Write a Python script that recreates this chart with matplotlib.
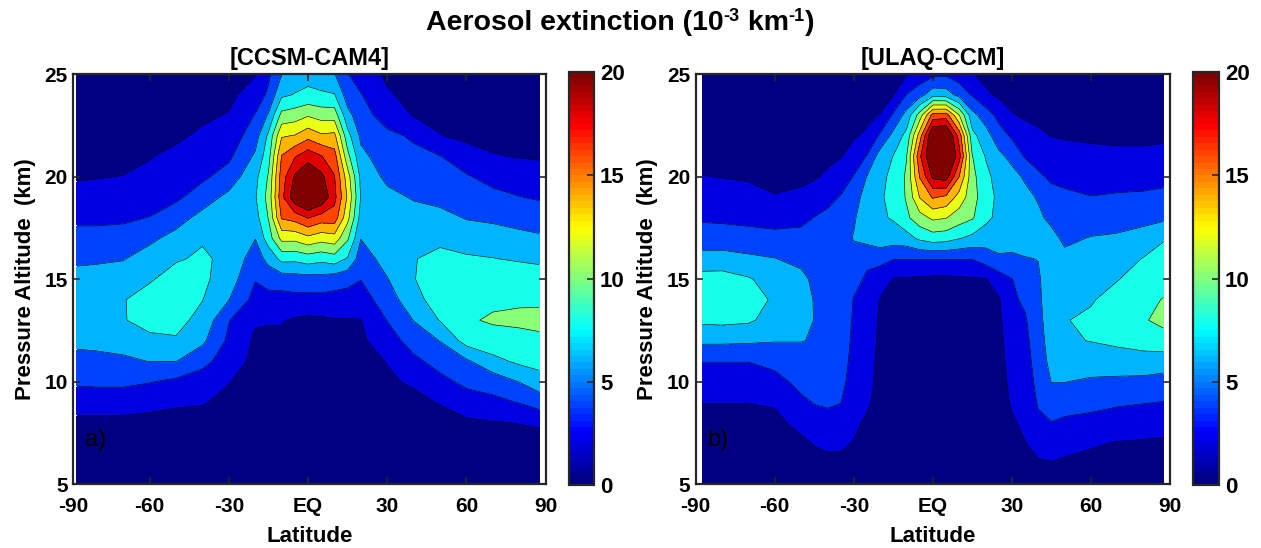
import numpy as np
import matplotlib
matplotlib.use("Agg")
import matplotlib.pyplot as plt
from matplotlib.colors import ListedColormap, Normalize
from matplotlib.cm import ScalarMappable

plt.rcParams['font.family'] = ['Liberation Sans', 'DejaVu Sans']

# ---------------- data ----------------
alt_km = list(range(5, 26))          # pressure altitude grid (km)
levels = [0, 2, 4, 6, 8, 10, 12, 14, 16, 18, 20]
cbar_ticks = [0, 5, 10, 15, 20]
xtick_vals = [-90, -60, -30, 0, 30, 60, 90]
xtick_labels = ['-90', '-60', '-30', 'EQ', '30', '60', '90']
ytick_vals = [5, 10, 15, 20, 25]

lat_ccsm = [-87.5, -80, -70, -60, -50, -40, -30, -20, -15, -10, -5, 0,
            5, 10, 15, 20, 30, 40, 50, 60, 70, 80, 87.5]
# one list per latitude, values at 5..25 km (10^-3 km^-1)
ext_ccsm = [
    [0.8, 1.0, 1.3, 1.5, 2.9, 4.3, 5.3, 6.5, 7.4, 7.5, 6.7, 5.6, 4.6, 3.6, 2.7, 1.8, 1.3, 1.0, 0.8, 0.7, 0.6],
    [0.8, 1.0, 1.3, 1.5, 2.9, 4.4, 5.4, 6.6, 7.6, 7.7, 6.8, 5.7, 4.6, 3.6, 2.8, 1.9, 1.3, 1.0, 0.8, 0.7, 0.6],
    [0.8, 1.0, 1.3, 1.5, 2.9, 4.4, 5.6, 6.9, 7.9, 7.9, 6.9, 5.9, 4.7, 3.7, 2.9, 2.05, 1.4, 1.0, 0.8, 0.7, 0.6],
    [0.8, 1.0, 1.3, 1.5, 2.5, 4.1, 6.05, 7.6, 8.6, 8.8, 7.8, 6.8, 5.6, 4.05, 3.1, 2.4, 1.9, 1.4, 1.1, 0.9, 0.8],
    [0.8, 1.0, 1.3, 1.5, 2.2, 3.6, 6.05, 7.8, 8.6, 9.0, 8.8, 7.8, 6.6, 5.2, 3.6, 2.8, 2.4, 1.7, 1.3, 1.0, 0.9],
    [0.8, 1.0, 1.3, 1.5, 2.1, 3.0, 4.6, 6.4, 7.4, 8.05, 8.4, 8.3, 7.8, 6.6, 5.05, 3.6, 3.0, 2.3, 1.7, 1.3, 1.1],
    [0.8, 1.0, 1.3, 1.5, 1.65, 2.05, 3.0, 3.6, 4.1, 6.05, 7.0, 7.5, 7.5, 7.2, 6.5, 4.9, 3.6, 2.8, 2.1, 1.6, 1.2],
    [0.5, 0.6, 0.8, 0.9, 1.1, 1.3, 1.5, 1.7, 2.2, 3.3, 4.1, 5.0, 6.05, 7.2, 7.8, 7.4, 6.3, 5.1, 4.1, 2.8, 1.9],
    [0.5, 0.6, 0.8, 0.9, 1.1, 1.3, 1.5, 1.7, 2.1, 3.3, 4.8, 6.6, 9.0, 10.1, 10.7, 10.2, 9.2, 8.4, 6.2, 4.4, 3.6],
    [0.5, 0.6, 0.7, 0.8, 1.0, 1.2, 1.4, 1.7, 2.1, 3.3, 4.9, 8.6, 12.6, 16.2, 17.4, 17.0, 16.1, 13.8, 10.6, 7.6, 5.9],
    [0.3, 0.4, 0.5, 0.6, 0.7, 0.9, 1.1, 1.4, 1.8, 3.4, 5.1, 8.5, 12.6, 16.8, 21.5, 20.3, 17.8, 14.1, 11.0, 8.1, 7.0],
    [0.3, 0.4, 0.5, 0.6, 0.7, 0.8, 1.0, 1.3, 1.6, 3.4, 5.2, 9.0, 13.5, 18.1, 23.5, 21.8, 19.2, 15.3, 11.8, 8.4, 7.4],
    [0.3, 0.4, 0.5, 0.6, 0.7, 0.8, 1.0, 1.3, 1.7, 3.4, 5.2, 8.6, 12.8, 17.1, 21.8, 20.5, 18.1, 14.3, 11.2, 8.2, 7.2],
    [0.5, 0.6, 0.7, 0.8, 0.9, 1.1, 1.3, 1.6, 1.9, 3.3, 4.9, 9.1, 13.2, 17.1, 18.6, 18.1, 16.8, 14.5, 11.1, 8.1, 6.1],
    [0.5, 0.6, 0.7, 0.8, 1.0, 1.2, 1.4, 1.7, 1.9, 3.2, 4.6, 7.8, 10.3, 12.6, 13.7, 12.9, 10.6, 8.7, 6.6, 5.0, 4.1],
    [0.6, 0.7, 0.8, 0.9, 1.1, 1.3, 1.5, 1.7, 1.95, 3.1, 4.05, 5.0, 6.05, 7.2, 7.9, 7.5, 6.5, 5.6, 4.9, 4.1, 3.0],
    [0.7, 0.9, 1.1, 1.3, 1.6, 1.8, 2.05, 3.0, 4.05, 5.0, 5.9, 6.8, 7.3, 7.2, 6.6, 5.5, 4.9, 4.5, 3.0, 2.2, 1.7],
    [0.7, 0.9, 1.1, 1.3, 1.6, 2.2, 3.5, 4.9, 6.05, 7.3, 7.9, 7.9, 7.5, 6.9, 5.8, 4.9, 4.5, 3.7, 1.9, 1.5, 1.2],
    [0.7, 0.9, 1.1, 1.4, 2.1, 3.4, 4.8, 6.05, 8.1, 9.0, 9.3, 8.6, 7.5, 6.5, 5.5, 4.8, 4.05, 2.05, 1.6, 1.3, 1.1],
    [0.7, 0.9, 1.2, 1.7, 3.0, 4.5, 5.7, 8.8, 9.8, 9.9, 9.4, 8.3, 6.9, 5.9, 5.0, 4.2, 2.8, 1.6, 1.3, 1.1, 1.0],
    [0.8, 1.0, 1.4, 1.9, 3.5, 4.9, 7.4, 9.3, 10.2, 9.7, 9.0, 8.05, 7.0, 5.6, 4.6, 3.3, 2.1, 1.5, 1.2, 1.0, 0.9],
    [0.8, 1.0, 1.4, 2.05, 4.1, 6.05, 8.4, 9.5, 10.3, 9.8, 9.1, 7.8, 6.6, 5.2, 4.05, 3.0, 1.9, 1.4, 1.1, 1.0, 0.9],
    [0.8, 1.0, 1.4, 2.2, 5.0, 7.0, 8.8, 9.6, 10.5, 9.7, 9.0, 7.6, 6.3, 5.0, 3.8, 2.8, 1.8, 1.3, 1.1, 1.0, 0.9],
]

lat_ulaq = [-87.5, -80, -70, -60, -50, -45, -40, -35, -30, -25, -20, -15, -10, -5, 0,
            5, 10, 15, 20, 25, 30, 35, 40, 45, 50, 60, 70, 80, 87.5]
ext_ulaq = [
    [0.5, 0.7, 1.0, 1.4, 2.05, 3.0, 4.05, 6.4, 8.4, 9.4, 8.8, 6.7, 5.0, 3.7, 2.9, 2.05, 1.5, 1.1, 0.9, 0.8, 0.7],
    [0.5, 0.7, 1.0, 1.4, 2.05, 3.0, 4.05, 6.4, 8.5, 9.5, 8.9, 6.7, 5.0, 3.6, 2.8, 1.95, 1.5, 1.1, 0.9, 0.8, 0.7],
    [0.5, 0.7, 1.0, 1.4, 2.05, 3.0, 4.05, 6.3, 8.3, 9.2, 8.2, 6.4, 4.7, 3.5, 2.6, 1.8, 1.4, 1.1, 0.9, 0.8, 0.7],
    [0.5, 0.7, 1.0, 1.5, 2.2, 3.3, 4.6, 6.1, 7.2, 7.6, 7.1, 6.05, 4.7, 3.1, 2.1, 1.5, 1.2, 1.0, 0.85, 0.75, 0.7],
    [0.6, 0.9, 1.6, 2.6, 3.6, 4.6, 5.3, 6.05, 6.8, 6.9, 6.5, 5.5, 4.6, 3.5, 2.4, 1.6, 1.2, 1.0, 0.85, 0.75, 0.7],
    [0.8, 1.4, 2.1, 3.2, 4.1, 4.8, 5.4, 5.9, 5.95, 5.9, 5.6, 5.1, 4.6, 4.05, 2.9, 1.8, 1.3, 1.1, 0.9, 0.8, 0.7],
    [1.0, 1.6, 2.3, 3.3, 4.3, 4.8, 5.1, 5.3, 5.4, 5.4, 5.3, 5.1, 4.8, 4.4, 3.5, 2.3, 1.6, 1.2, 1.0, 0.85, 0.75],
    [1.0, 1.6, 2.3, 3.2, 4.05, 4.6, 5.0, 5.3, 5.5, 5.6, 5.6, 5.5, 5.3, 4.9, 4.1, 3.0, 1.9, 1.4, 1.1, 0.9, 0.8],
    [0.9, 1.3, 1.9, 2.4, 2.8, 3.1, 3.3, 3.5, 3.7, 3.9, 4.6, 5.4, 6.1, 5.8, 5.2, 4.1, 2.8, 1.8, 1.3, 1.0, 0.9],
    [0.7, 1.0, 1.3, 1.7, 2.3, 2.6, 2.8, 3.0, 3.2, 3.4, 3.7, 4.4, 6.7, 7.0, 6.8, 6.05, 4.1, 2.3, 1.6, 1.2, 1.0],
    [0.6, 0.8, 1.0, 1.2, 1.3, 1.4, 1.5, 1.6, 1.7, 1.9, 2.9, 4.6, 7.2, 7.7, 7.8, 7.6, 6.9, 4.3, 2.05, 1.5, 1.2],
    [0.5, 0.6, 0.7, 0.8, 0.9, 1.0, 1.1, 1.2, 1.3, 1.5, 1.9, 4.1, 7.0, 8.2, 8.5, 8.4, 8.05, 6.6, 4.3, 1.95, 1.2],
    [0.5, 0.6, 0.7, 0.8, 0.9, 1.0, 1.1, 1.2, 1.3, 1.5, 1.8, 4.1, 7.2, 9.6, 10.2, 10.3, 9.9, 8.6, 6.7, 4.05, 1.9],
    [0.4, 0.5, 0.6, 0.7, 0.8, 0.9, 1.0, 1.1, 1.2, 1.4, 1.7, 4.1, 8.4, 11.2, 14.1, 16.1, 17.6, 15.0, 10.9, 5.2, 2.8],
    [0.3, 0.4, 0.5, 0.6, 0.7, 0.8, 0.9, 1.0, 1.1, 1.3, 1.6, 4.1, 9.0, 12.4, 16.2, 20.4, 22.5, 22.5, 16.8, 7.2, 3.5],
    [0.3, 0.4, 0.5, 0.6, 0.7, 0.8, 0.9, 1.0, 1.1, 1.3, 1.6, 4.1, 8.8, 12.1, 15.6, 21.0, 23.5, 23.0, 17.0, 7.0, 3.7],
    [0.4, 0.5, 0.6, 0.7, 0.8, 0.9, 1.0, 1.1, 1.2, 1.4, 1.7, 4.1, 8.1, 11.0, 13.2, 16.0, 18.8, 17.2, 12.1, 5.3, 3.0],
    [0.5, 0.6, 0.7, 0.8, 0.9, 1.0, 1.1, 1.2, 1.3, 1.5, 1.8, 4.1, 7.5, 10.2, 10.8, 10.6, 10.05, 8.6, 6.6, 3.8, 2.1],
    [0.5, 0.6, 0.7, 0.8, 0.9, 1.0, 1.1, 1.2, 1.3, 1.5, 1.9, 4.9, 7.0, 8.5, 8.8, 8.5, 7.9, 6.8, 5.1, 2.3, 1.5],
    [0.7, 0.8, 0.9, 1.0, 1.1, 1.2, 1.3, 1.4, 1.6, 1.8, 3.0, 5.7, 6.9, 7.5, 7.6, 7.3, 6.5, 4.9, 3.4, 1.7, 1.3],
    [0.9, 1.2, 1.5, 1.8, 2.2, 2.5, 2.8, 3.1, 3.4, 3.7, 3.95, 5.6, 6.9, 7.3, 7.2, 6.7, 5.4, 3.7, 2.1, 1.5, 1.2],
    [1.0, 1.5, 1.95, 2.3, 2.6, 2.9, 3.2, 3.5, 3.8, 4.3, 5.0, 5.9, 6.9, 7.0, 6.6, 5.7, 3.8, 2.6, 1.8, 1.4, 1.2],
    [1.2, 1.8, 2.6, 3.6, 4.2, 4.6, 4.9, 5.1, 5.3, 5.5, 5.7, 6.05, 6.5, 6.4, 5.8, 4.3, 3.3, 2.3, 1.6, 1.3, 1.1],
    [1.2, 1.9, 2.8, 3.95, 4.9, 6.05, 6.6, 7.0, 7.3, 7.5, 7.4, 7.1, 6.6, 5.5, 4.6, 3.7, 2.9, 1.95, 1.5, 1.2, 1.1],
    [1.1, 1.7, 2.6, 3.7, 4.7, 6.05, 7.0, 7.8, 7.9, 7.6, 7.0, 6.5, 5.6, 4.9, 4.3, 3.6, 2.8, 1.8, 1.4, 1.2, 1.0],
    [1.0, 1.5, 2.2, 3.4, 4.6, 5.7, 7.1, 8.05, 8.4, 7.8, 7.3, 6.9, 6.1, 5.0, 4.05, 3.2, 2.5, 1.7, 1.3, 1.1, 1.0],
    [0.9, 1.3, 1.9, 3.0, 4.3, 5.6, 7.1, 8.4, 9.0, 8.9, 7.9, 7.1, 6.3, 5.1, 4.2, 3.3, 2.4, 1.6, 1.3, 1.1, 1.0],
    [0.9, 1.2, 1.8, 2.9, 4.1, 5.5, 7.2, 8.8, 9.8, 9.7, 9.0, 8.1, 6.8, 5.4, 4.3, 3.3, 2.4, 1.6, 1.3, 1.1, 1.0],
    [0.9, 1.2, 1.7, 2.8, 3.95, 5.2, 7.1, 9.05, 10.6, 10.05, 9.6, 8.9, 7.8, 5.6, 4.5, 3.4, 2.5, 1.7, 1.3, 1.1, 1.0],
]

panels = [
    dict(lat=lat_ccsm, ext=ext_ccsm, title='[CCSM-CAM4]', tag='a)'),
    dict(lat=lat_ulaq, ext=ext_ulaq, title='[ULAQ-CCM]', tag='b)'),
]


# ---------------- MATLAB-like jet ----------------
def mjet(x):
    x = np.asarray(x, dtype=float)
    r = np.clip(1.5 - np.abs(4 * x - 3), 0, 1)
    g = np.clip(1.5 - np.abs(4 * x - 2), 0, 1)
    b = np.clip(1.5 - np.abs(4 * x - 1), 0, 1)
    return np.stack([r, g, b], axis=-1)


cmap64 = ListedColormap(mjet(np.linspace(0, 1, 64)))
vmin, vmax = levels[0], levels[-1]
band_colors = []
for lv in levels:
    idx = min(int((lv - vmin) / (vmax - vmin) * 64), 63)
    band_colors.append(tuple(mjet(idx / 63.0)))
fill_levels = levels + [1000]

W, H = 1261, 548
fig = plt.figure(figsize=(W / 100, H / 100), dpi=100)

ax_boxes = [(73.3, 545.7), (695.7, 1170.0)]
cb_boxes = [(569.3, 594.3), (1193.3, 1219.3)]
xlims = [(-88.9, 90), (-90, 90)]
ytop, ybot = 74.2, 484.2
axis_col = '#262626'

for i, p in enumerate(panels):
    x0, x1 = ax_boxes[i]
    ax = fig.add_axes([x0 / W, (H - ybot) / H, (x1 - x0) / W, (ybot - ytop) / H])
    Z = np.array(p['ext']).T
    ax.contourf(p['lat'], alt_km, Z, levels=fill_levels, colors=band_colors)
    ax.contour(p['lat'], alt_km, Z, levels=levels[1:], colors='k', linewidths=0.45)
    ax.set_xlim(*xlims[i])
    ax.set_ylim(5, 25)
    xt = list(xtick_vals)
    xt[0] = xlims[i][0]
    ax.set_xticks(xt)
    ax.set_xticklabels(xtick_labels)
    ax.set_yticks(ytick_vals)
    ax.tick_params(direction='in', length=5, width=1.2, top=True, right=True,
                   labelsize=15, colors=axis_col)
    ax.tick_params(axis='x', pad=9)
    ax.tick_params(axis='y', pad=4)
    for lab in ax.get_xticklabels() + ax.get_yticklabels():
        lab.set_fontweight('bold')
        lab.set_color('black')
    for s in ax.spines.values():
        s.set_linewidth(1.6)
        s.set_color(axis_col)
    ax.set_xlabel('Latitude', fontsize=16, fontweight='bold', labelpad=7.5)
    ax.set_ylabel('Pressure Altitude  (km)', fontsize=16, fontweight='bold', labelpad=6)
    ax.text(0.024, 0.108, p['tag'], transform=ax.transAxes, fontsize=17,
            color='black', ha='left', va='center')
    fig.text(((x0 + x1) / 2) / W, 1 - 58 / H, p['title'], fontsize=17,
             fontweight='bold', ha='center', va='center')

    c0, c1 = cb_boxes[i]
    cax = fig.add_axes([c0 / W, (H - 485) / H, (c1 - c0) / W, (485 - 72.3) / H])
    sm = ScalarMappable(norm=Normalize(vmin, vmax), cmap=cmap64)
    cb = fig.colorbar(sm, cax=cax, ticks=cbar_ticks)
    cb.outline.set_linewidth(1.6)
    cb.outline.set_edgecolor(axis_col)
    cax.tick_params(direction='in', length=5, width=1.2, labelsize=16,
                    colors=axis_col, pad=4)
    for lab in cax.get_yticklabels():
        lab.set_fontweight('bold')
        lab.set_color('black')

# ---------------- main title with raised superscripts ----------------
title_pieces = [('Aerosol extinction (10', 20.5, 0.0), ('-3', 13.0, 8.5),
                (' km', 20.5, 0.0), ('-1', 13.0, 8.5), (')', 20.5, 0.0)]
renderer = fig.canvas.get_renderer()
title_y = H - 22.0
drawn = []
xcur = 0.0
for txt, fs, dy in title_pieces:
    t = fig.text(0, 0, txt, fontsize=fs, fontweight='bold', ha='left',
                 va='baseline', transform=None)
    bb = t.get_window_extent(renderer)
    drawn.append((t, xcur, dy))
    xcur += bb.width
start = 620.0 - xcur / 2.0
base = title_y - 7.5
for t, xo, dy in drawn:
    t.set_position((start + xo, base + dy))

fig.savefig('out.png', dpi=100)
